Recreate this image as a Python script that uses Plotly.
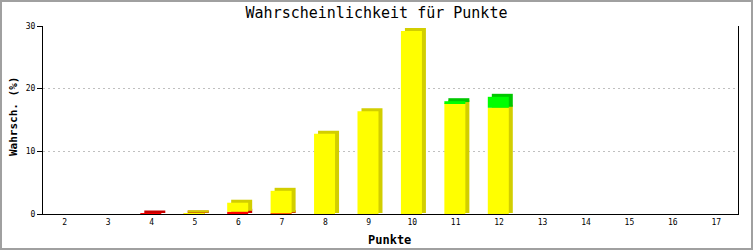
import plotly.graph_objects as go

# ---- data ----
punkte = [2, 3, 4, 5, 6, 7, 8, 9, 10, 11, 12, 13, 14, 15, 16, 17]
rot    = [0, 0, 0.08, 0.06, 0.35, 0.1, 0, 0, 0, 0, 0, 0, 0, 0, 0, 0]
gelb   = [0, 0, 0, 0.06, 1.45, 3.6, 12.8, 16.4, 29.2, 17.7, 16.95, 0, 0, 0, 0, 0]
gruen  = [0, 0, 0, 0, 0, 0, 0, 0, 0, 0.3, 1.75, 0, 0, 0, 0, 0]
y_ticks = [0, 10, 20, 30]
title = "Wahrscheinlichkeit für Punkte"
x_title = "Punkte"
y_title = "Wahrsch. (%)"

# ---- style ----
W, H = 753, 250
ML, MR, MT, MB = 43, 15, 26, 36
plot_w = W - ML - MR
plot_h = H - MT - MB
x_range = [1.5, 17.5]
y_range = [0, 30]
px_x = plot_w / (x_range[1] - x_range[0])
px_y = plot_h / (y_range[1] - y_range[0])
dx = 4 / px_x   # depth offset (data units)
dy = 3 / px_y
lift = 1 / px_y
bar_w = 21 / px_x
front_off = -0.26

series = [
    (rot, "#FF0000", "#C80000"),
    (gelb, "#FFFF00", "#D2CE00"),
    (gruen, "#00FF00", "#00C800"),
]

fig = go.Figure()
bases = [0.0] * len(punkte)
segs = []
for vals, col, dark in series:
    b = list(bases)
    h = [v if v > 0 else None for v in vals]
    segs.append((b, h, col, dark))
    bases = [bb + v for bb, v in zip(bases, vals)]

# shadows (side + top faces)
for b, h, col, dark in segs:
    fig.add_trace(go.Bar(x=punkte,
                         y=[None if hh is None else hh + dy - lift for hh in h],
                         base=[bb + lift for bb in b],
                         width=bar_w, offset=front_off + dx,
                         marker=dict(color=dark, line=dict(width=0)),
                         hoverinfo="skip", showlegend=False))
# fronts
for b, h, col, dark in segs:
    fig.add_trace(go.Bar(x=punkte, y=h, base=b,
                         width=bar_w, offset=front_off,
                         marker=dict(color=col, line=dict(width=0)),
                         showlegend=False))

mono = "DejaVu Sans Mono"
fig.update_layout(
    width=W, height=H,
    margin=dict(l=ML, r=MR, t=MT, b=MB, pad=0, autoexpand=False),
    paper_bgcolor="white", plot_bgcolor="white",
    barmode="overlay",
    title=dict(text=title, x=0.5, xanchor="center", y=1 - 13 / H, yanchor="middle",
               font=dict(family=mono, size=15, color="black")),
    xaxis=dict(range=x_range, tickvals=punkte, ticktext=[str(p) for p in punkte],
               showgrid=False, zeroline=False, showline=True, linecolor="black",
               linewidth=1, ticks="", automargin=False,
               tickfont=dict(family=mono, size=8, color="black")),
    yaxis=dict(range=y_range, tickvals=y_ticks, showgrid=True, gridcolor="#C0C0C0",
               griddash="2px,3px", gridwidth=1, zeroline=False, automargin=False,
               showline=True, linecolor="black", linewidth=1, mirror=True,
               ticks="outside", ticklen=5, tickcolor="black",
               tickfont=dict(family=mono, size=8, color="black")),
    annotations=[
        dict(text=x_title, xref="paper", yref="paper",
             x=(389 - ML) / plot_w, y=-(240 - (H - MB)) / plot_h,
             xanchor="center", yanchor="middle", showarrow=False,
             font=dict(family=mono, size=12, color="black", weight="bold")),
        dict(text=y_title, xref="paper", yref="paper",
             x=-(ML - 13) / plot_w, y=((H - MB) - 117) / plot_h, textangle=-90,
             xanchor="center", yanchor="middle", showarrow=False,
             font=dict(family=mono, size=11, color="black", weight="bold")),
    ],
    shapes=[dict(type="rect", xref="paper", yref="paper",
                 x0=-(ML - 1) / plot_w, x1=1 + (MR - 1) / plot_w,
                 y0=-(MB - 1) / plot_h, y1=1 + (MT - 1) / plot_h,
                 line=dict(color="#A0A0A0", width=2), layer="below")],
)

fig.write_html("out.html")
